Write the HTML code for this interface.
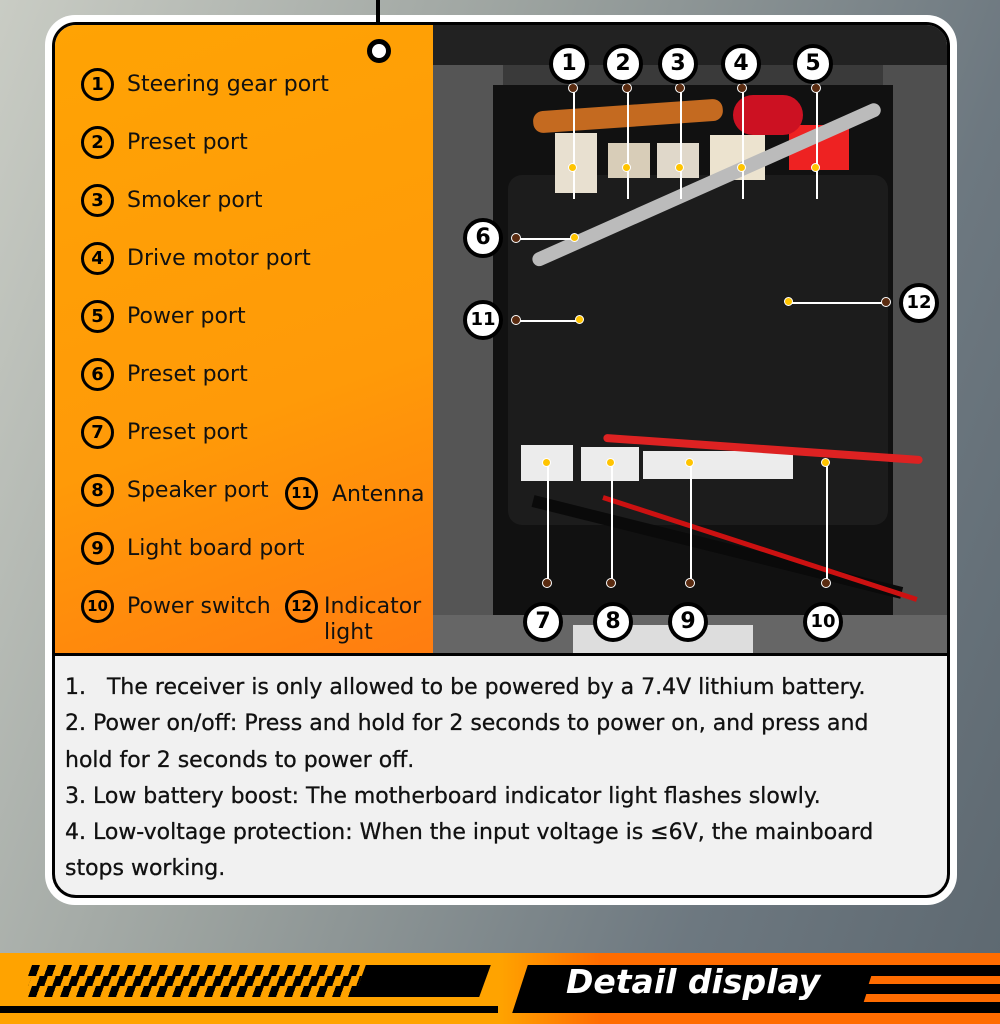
<!DOCTYPE html>
<html><head><meta charset="utf-8"><style>
*{margin:0;padding:0;box-sizing:border-box}
body{width:1000px;height:1024px;overflow:hidden;position:relative;font-family:"DejaVu Sans","Liberation Sans",sans-serif;background:linear-gradient(110deg,#c9ccc4 0%,#9aa19e 40%,#6d7880 75%,#5d6870 100%)}
.a{position:absolute}
.card{left:45px;top:15px;width:912px;height:890px;background:#fff;border-radius:30px}
.inner{left:52px;top:22px;width:898px;height:876px;border:3px solid #000;border-radius:24px;overflow:hidden;background:#f1f1f1}
.orange{left:0;top:0;width:378px;height:628px;background:linear-gradient(160deg,#ffa304 0%,#ff9a08 60%,#ff7d10 100%)}
.photo{left:378px;top:0;width:520px;height:628px;background:#3a3a3a;overflow:hidden}
.lbl{font-size:22px;color:#111;white-space:nowrap}
.c{position:absolute;width:33px;height:33px;border:3px solid #000;border-radius:50%;font-weight:bold;font-size:18px;text-align:center;line-height:27px;color:#000}
.cw{position:absolute;width:40px;height:40px;border:4px solid #000;background:#fff;border-radius:50%;font-weight:bold;font-size:22px;text-align:center;line-height:32px;color:#000}
.dot{position:absolute;width:9px;height:9px;border-radius:50%;background:#ffc400;border:1.5px solid #fff}
.bd{position:absolute;width:10px;height:10px;border-radius:50%;background:#5a2b10;border:1.5px solid #fff}
.ln{position:absolute;background:#fff}
.txt{left:10px;top:645px;font-size:22px;line-height:36.3px;color:#111;width:850px;-webkit-text-stroke:0.3px #111}
</style></head><body>
<div class="a card"></div>
<div class="a" style="left:376px;top:0;width:4px;height:44px;background:#000"></div>
<div class="a inner">
 <div class="a orange">
  <div class="a" style="left:312px;top:14px;width:24px;height:24px;border-radius:50%;background:#fff;border:5px solid #000"></div>
 </div>
 <div class="a photo">
  <div class="a" style="left:0;top:0;width:520px;height:40px;background:#222"></div>
  <div class="a" style="left:0;top:40px;width:70px;height:590px;background:#555"></div>
  <div class="a" style="left:450px;top:40px;width:70px;height:590px;background:#4f4f4f"></div>
  <div class="a" style="left:60px;top:60px;width:400px;height:570px;background:#111"></div>
  <div class="a" style="left:75px;top:150px;width:380px;height:350px;background:#1c1c1c;border-radius:14px"></div>
  <div class="a" style="left:122px;top:108px;width:42px;height:60px;background:#e8e0d0"></div>
  <div class="a" style="left:175px;top:118px;width:42px;height:35px;background:#d8cdb8"></div>
  <div class="a" style="left:224px;top:118px;width:42px;height:35px;background:#e0d8ca"></div>
  <div class="a" style="left:277px;top:110px;width:55px;height:45px;background:#ece3cf"></div>
  <div class="a" style="left:356px;top:100px;width:60px;height:45px;background:#e22"></div>
  <div class="a" style="left:100px;top:80px;width:190px;height:22px;background:#c46a20;border-radius:10px;transform:rotate(-4deg)"></div>
  <div class="a" style="left:300px;top:70px;width:70px;height:40px;background:#c12;border-radius:20px"></div>
  <div class="a" style="left:100px;top:230px;width:380px;height:14px;background:#bbb;border-radius:7px;transform:rotate(-24deg);transform-origin:left"></div>
  <div class="a" style="left:88px;top:420px;width:52px;height:36px;background:#ececec"></div>
  <div class="a" style="left:148px;top:422px;width:58px;height:34px;background:#ececec"></div>
  <div class="a" style="left:210px;top:426px;width:150px;height:28px;background:#ececec"></div>
  <div class="a" style="left:170px;top:420px;width:320px;height:8px;background:#d22;border-radius:4px;transform:rotate(4deg)"></div>
  <div class="a" style="left:100px;top:470px;width:380px;height:12px;background:#0a0a0a;transform:rotate(14deg);transform-origin:left"></div>
  <div class="a" style="left:170px;top:470px;width:330px;height:5px;background:#c11;transform:rotate(18deg);transform-origin:left"></div>
  <div class="a" style="left:0;top:590px;width:520px;height:38px;background:#666"></div>
  <div class="a" style="left:140px;top:600px;width:180px;height:28px;background:#ddd"></div>
  <div class="ln" style="left:140px;top:62px;width:1.5px;height:112px"></div>
  <div class="ln" style="left:194px;top:62px;width:1.5px;height:112px"></div>
  <div class="ln" style="left:247px;top:62px;width:1.5px;height:112px"></div>
  <div class="ln" style="left:309px;top:62px;width:1.5px;height:112px"></div>
  <div class="ln" style="left:383px;top:62px;width:1.5px;height:112px"></div>
  <div class="ln" style="left:83px;top:213px;width:60px;height:1.5px"></div>
  <div class="ln" style="left:83px;top:295px;width:65px;height:1.5px"></div>
  <div class="ln" style="left:356px;top:277px;width:100px;height:1.5px"></div>
  <div class="ln" style="left:114px;top:438px;width:1.5px;height:120px"></div>
  <div class="ln" style="left:178px;top:438px;width:1.5px;height:120px"></div>
  <div class="ln" style="left:257px;top:438px;width:1.5px;height:120px"></div>
  <div class="ln" style="left:393px;top:438px;width:1.5px;height:120px"></div>
  <div class="bd" style="left:135px;top:58px"></div><div class="bd" style="left:189px;top:58px"></div><div class="bd" style="left:242px;top:58px"></div><div class="bd" style="left:304px;top:58px"></div><div class="bd" style="left:378px;top:58px"></div>
  <div class="dot" style="left:135px;top:138px"></div><div class="dot" style="left:189px;top:138px"></div><div class="dot" style="left:242px;top:138px"></div><div class="dot" style="left:304px;top:138px"></div><div class="dot" style="left:378px;top:138px"></div>
  <div class="bd" style="left:78px;top:208px"></div><div class="dot" style="left:137px;top:208px"></div>
  <div class="bd" style="left:78px;top:290px"></div><div class="dot" style="left:142px;top:290px"></div>
  <div class="dot" style="left:351px;top:272px"></div><div class="bd" style="left:448px;top:272px"></div>
  <div class="dot" style="left:109px;top:433px"></div><div class="dot" style="left:173px;top:433px"></div><div class="dot" style="left:252px;top:433px"></div><div class="dot" style="left:388px;top:433px"></div>
  <div class="bd" style="left:109px;top:553px"></div><div class="bd" style="left:173px;top:553px"></div><div class="bd" style="left:252px;top:553px"></div><div class="bd" style="left:388px;top:553px"></div>
  <div class="cw" style="left:116px;top:19px">1</div>
  <div class="cw" style="left:170px;top:19px">2</div>
  <div class="cw" style="left:225px;top:19px">3</div>
  <div class="cw" style="left:288px;top:19px">4</div>
  <div class="cw" style="left:360px;top:19px">5</div>
  <div class="cw" style="left:30px;top:193px">6</div>
  <div class="cw" style="left:30px;top:275px;font-size:18px">11</div>
  <div class="cw" style="left:466px;top:258px;font-size:18px">12</div>
  <div class="cw" style="left:90px;top:577px">7</div>
  <div class="cw" style="left:160px;top:577px">8</div>
  <div class="cw" style="left:235px;top:577px">9</div>
  <div class="cw" style="left:370px;top:577px;font-size:18px">10</div>
 </div>
 <div class="a" style="left:0;top:628px;width:898px;height:3px;background:#000"></div>
 <div class="a txt">1.&nbsp;&nbsp; The receiver is only allowed to be powered by a 7.4V lithium battery.<br>2. Power on/off: Press and hold for 2 seconds to power on, and press and<br>hold for 2 seconds to power off.<br>3. Low battery boost: The motherboard indicator light flashes slowly.<br>4. Low-voltage protection: When the input voltage is ≤6V, the mainboard<br>stops working.</div>
</div>
<div class="c" style="left:81px;top:68px">1</div><div class="a lbl" style="left:127px;top:72px">Steering gear port</div>
<div class="c" style="left:81px;top:126px">2</div><div class="a lbl" style="left:127px;top:130px">Preset port</div>
<div class="c" style="left:81px;top:184px">3</div><div class="a lbl" style="left:127px;top:188px">Smoker port</div>
<div class="c" style="left:81px;top:242px">4</div><div class="a lbl" style="left:127px;top:246px">Drive motor port</div>
<div class="c" style="left:81px;top:300px">5</div><div class="a lbl" style="left:127px;top:304px">Power port</div>
<div class="c" style="left:81px;top:358px">6</div><div class="a lbl" style="left:127px;top:362px">Preset port</div>
<div class="c" style="left:81px;top:416px">7</div><div class="a lbl" style="left:127px;top:420px">Preset port</div>
<div class="c" style="left:81px;top:474px">8</div><div class="a lbl" style="left:127px;top:478px">Speaker port</div>
<div class="c" style="left:285px;top:477px;font-size:15px">11</div><div class="a lbl" style="left:332px;top:482px">Antenna</div>
<div class="c" style="left:81px;top:532px">9</div><div class="a lbl" style="left:127px;top:536px">Light board port</div>
<div class="c" style="left:81px;top:590px;font-size:15px">10</div><div class="a lbl" style="left:127px;top:594px">Power switch</div>
<div class="c" style="left:285px;top:590px;font-size:15px">12</div><div class="a lbl" style="left:324px;top:594px;line-height:26px">Indicator<br>light</div>
<div class="a" style="left:0;top:953px;width:1000px;height:71px;background:linear-gradient(90deg,#ffa300 0%,#ffa300 50%,#ff6c00 60%,#ff6c00 100%)"></div>
<div class="a" style="left:0;top:1006px;width:498px;height:7px;background:#000"></div>
<div class="a" style="left:30px;top:965px;width:330px;height:11px;background:repeating-linear-gradient(90deg,#000 0 8px,transparent 8px 16px);transform:skewX(-20deg)"></div>
<div class="a" style="left:30px;top:976px;width:330px;height:10px;background:repeating-linear-gradient(90deg,transparent 0 8px,#000 8px 16px);transform:skewX(-20deg)"></div>
<div class="a" style="left:30px;top:986px;width:330px;height:11px;background:repeating-linear-gradient(90deg,#000 0 8px,transparent 8px 16px);transform:skewX(-20deg)"></div>
<div class="a" style="left:360px;top:965px;width:125px;height:32px;background:#000;transform:skewX(-20deg)"></div>
<div class="a" style="left:520px;top:965px;width:520px;height:48px;background:#000;transform:skewX(-18deg)"></div>
<div class="a" style="left:566px;top:962px;font-size:33px;color:#fff;font-style:italic;font-weight:bold;font-family:'DejaVu Sans',sans-serif">Detail display</div>
<div class="a" style="left:870px;top:976px;width:140px;height:8px;background:#ff6c00;transform:skewX(-18deg)"></div>
<div class="a" style="left:865px;top:994px;width:140px;height:8px;background:#ff6c00;transform:skewX(-18deg)"></div>
</body></html>
